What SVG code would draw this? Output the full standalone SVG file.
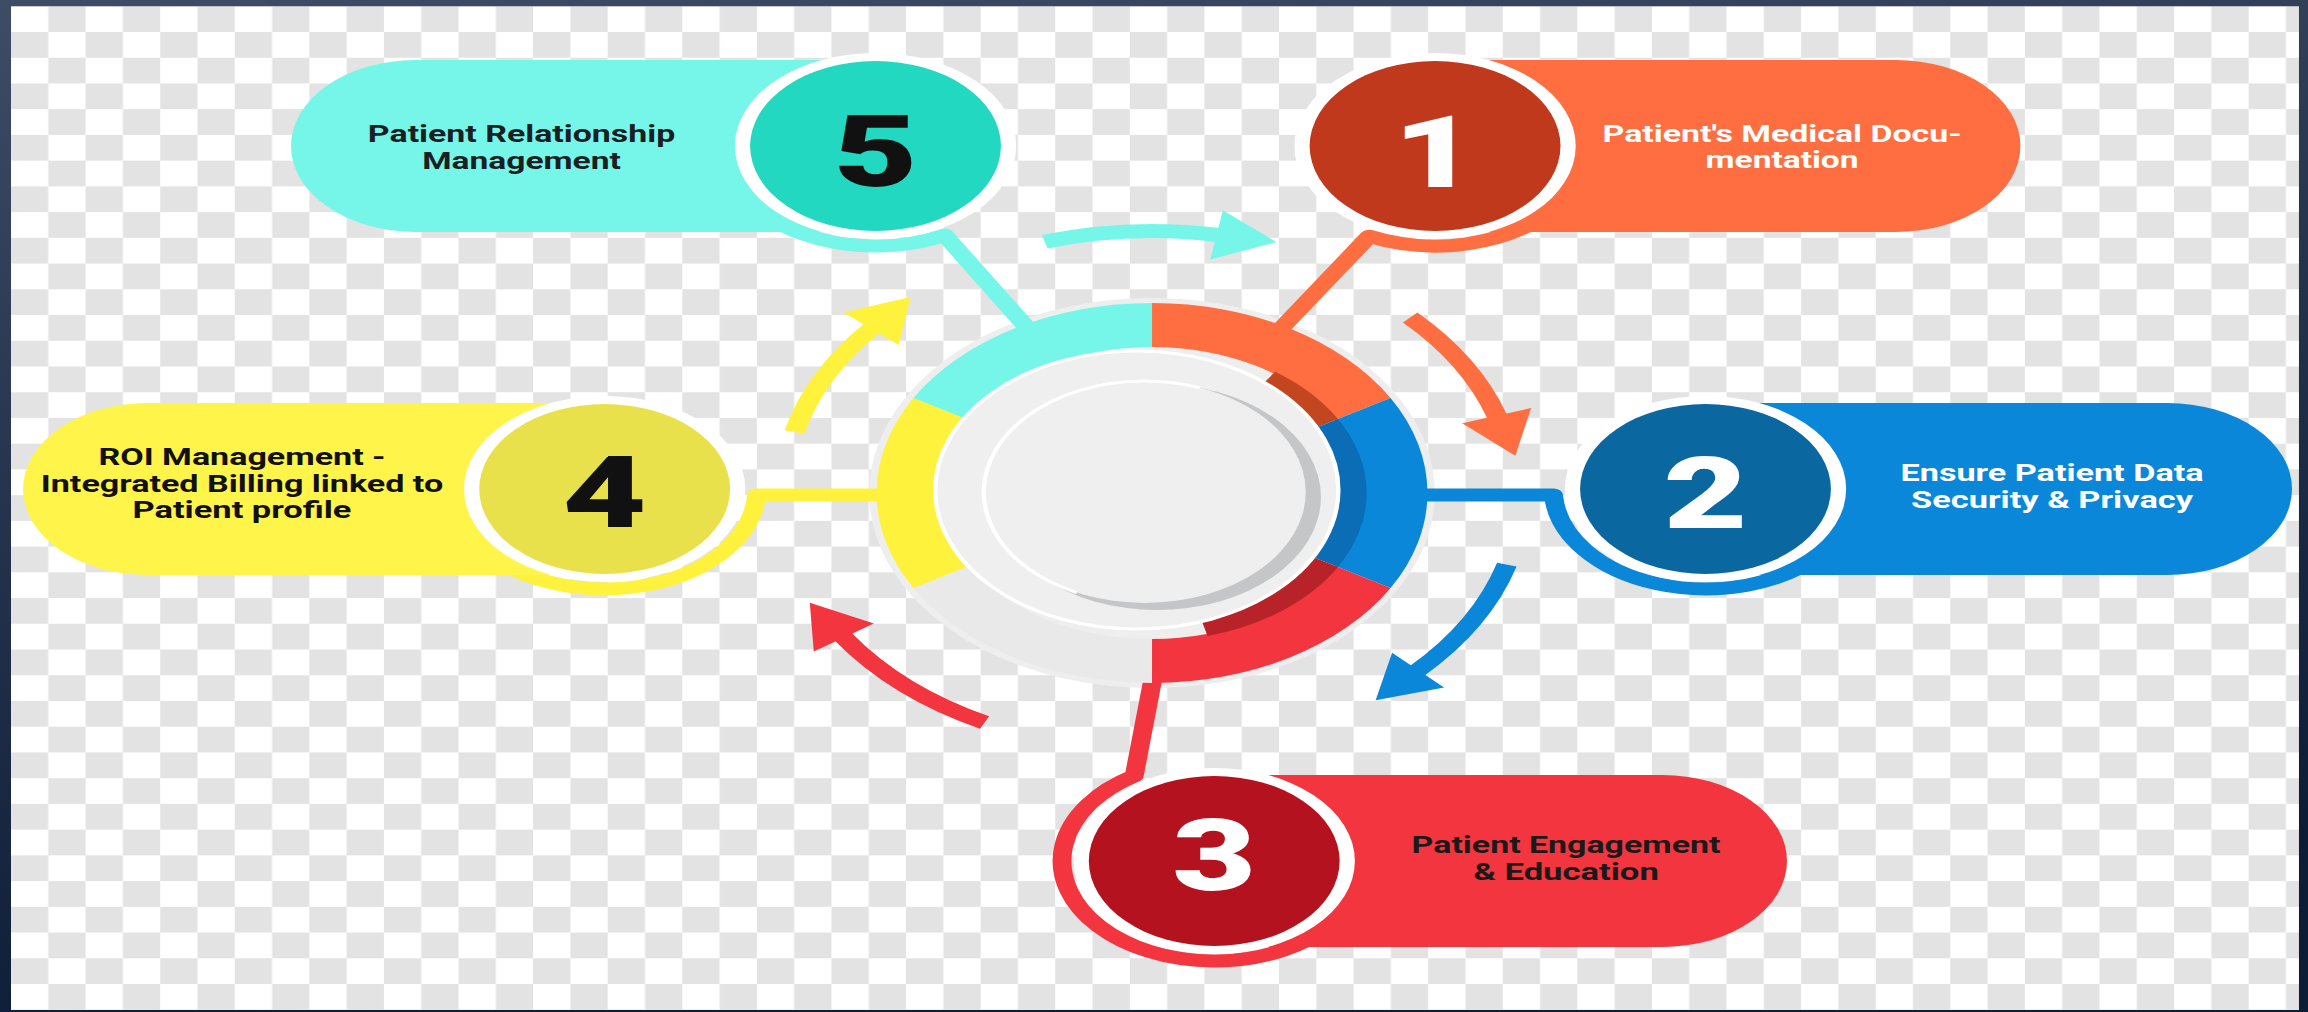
<svg xmlns="http://www.w3.org/2000/svg" width="2308" height="1012" viewBox="0 0 2308 1012">
<defs>
<linearGradient id="frame" x1="0" y1="0" x2="0.25" y2="1">
<stop offset="0" stop-color="#3e4c66"/>
<stop offset="0.45" stop-color="#26344e"/>
<stop offset="1" stop-color="#0e1d37"/>
</linearGradient>
<pattern id="checker" patternUnits="userSpaceOnUse" x="7.586" y="6.27" width="51.44" height="51.46">
<rect width="51.44" height="51.46" fill="#ffffff"/>
<rect x="25.72" y="0" width="25.72" height="25.73" fill="#e3e3e3"/>
<rect x="0" y="25.73" width="25.72" height="25.73" fill="#e3e3e3"/>
</pattern>
<marker id="ah-cyan" markerUnits="userSpaceOnUse" orient="auto" refX="1" refY="0" markerWidth="44" markerHeight="52" overflow="visible"><path d="M0,-25 L42,0 L0,25 Z" fill="#76f6e8"/></marker>
<marker id="ah-orange" markerUnits="userSpaceOnUse" orient="auto" refX="1" refY="0" markerWidth="44" markerHeight="52" overflow="visible"><path d="M0,-25 L42,0 L0,25 Z" fill="#ff6e40"/></marker>
<marker id="ah-blue" markerUnits="userSpaceOnUse" orient="auto" refX="1" refY="0" markerWidth="44" markerHeight="52" overflow="visible"><path d="M0,-25 L42,0 L0,25 Z" fill="#0a87d9"/></marker>
<marker id="ah-red" markerUnits="userSpaceOnUse" orient="auto" refX="1" refY="0" markerWidth="44" markerHeight="52" overflow="visible"><path d="M0,-25 L42,0 L0,25 Z" fill="#f2353f"/></marker>
<marker id="ah-yellow" markerUnits="userSpaceOnUse" orient="auto" refX="1" refY="0" markerWidth="44" markerHeight="52" overflow="visible"><path d="M0,-25 L42,0 L0,25 Z" fill="#fff23c"/></marker>
<style>
.t{font-family:Roboto,"Liberation Sans",Arial,sans-serif;font-weight:700;font-size:23.5px;text-anchor:middle}
.num{font-family:Roboto,"Liberation Sans",Arial,sans-serif;font-weight:900;font-size:100px;text-anchor:middle}
.conn{fill:none;stroke-width:13;stroke-linejoin:round}
.arrow{fill:none;stroke-width:14}
.halo{fill:#fff}
</style>
</defs>
<rect width="2308" height="1012" fill="url(#frame)"/>
<g transform="scale(1.45,1)">
<rect x="7.586" y="6.27" width="1577.9" height="1003.7" fill="url(#checker)"/>

<g id="hub-halo"><circle cx="794.5" cy="493" r="195" fill="#eeeeee"/></g>

<g id="connectors">
<path class="conn" stroke="#76f6e8" d="M714,337 L651.5,235.1 A105 100 0 0 1 523.4,210.3"/>
<path class="conn" stroke="#ff6e40" d="M880.5,333 L944.3,236.2 A105 100 0 0 0 1070.1,210.3"/>
<path class="conn" stroke="#0a87d9" d="M975,495 H1071.4 A105 100 0 0 0 1256.6,553.3"/>
<path class="conn" stroke="#f2353f" d="M796,672 L782.2,775.9 A105 100 0 1 0 917.8,925.3"/>
<path class="conn" stroke="#fff23c" d="M614,495 H521.8 A105 100 0 0 1 336.6,553.3"/>
<path class="arrow" stroke="#76f6e8" marker-end="url(#ah-cyan)" d="M720.5,241.7 A262 262 0 0 1 840,235"/>
<path class="arrow" stroke="#ff6e40" marker-end="url(#ah-orange)" d="M972.5,317.5 A250 250 0 0 1 1032.5,416.6"/>
<path class="arrow" stroke="#0a87d9" marker-end="url(#ah-blue)" d="M1039.2,564.6 A255 255 0 0 1 977.3,670.8"/>
<path class="arrow" stroke="#f2353f" marker-end="url(#ah-red)" d="M679,722.6 A257 257 0 0 1 581.4,636.7"/>
<path class="arrow" stroke="#fff23c" marker-end="url(#ah-yellow)" d="M547.9,432 A254 254 0 0 1 601.4,328.1"/>
</g>

<g id="hub">
<path fill="#ff6e40" d="M794.5,303 A190 190 0 0 1 959,398 L920.9,420 A146 146 0 0 0 794.5,347 Z"/>
<path fill="#0a87d9" d="M959,398 A190 190 0 0 1 959,588 L920.9,566 A146 146 0 0 0 920.9,420 Z"/>
<path fill="#f2353f" d="M959,588 A190 190 0 0 1 794.5,683 L794.5,639 A146 146 0 0 0 920.9,566 Z"/>
<path fill="#e9e9e9" d="M794.5,683 A190 190 0 0 1 630,588 L668.1,566 A146 146 0 0 0 794.5,639 Z"/>
<path fill="#fff23c" d="M630,588 A190 190 0 0 1 630,398 L668.1,420 A146 146 0 0 0 668.1,566 Z"/>
<path fill="#76f6e8" d="M630,398 A190 190 0 0 1 794.5,303 L794.5,347 A146 146 0 0 0 668.1,420 Z"/>
<path fill="#c2461f" d="M879.4,371.8 A148 148 0 0 1 922.7,419 L900.2,432 A122 122 0 0 0 864.5,393.1 Z"/>
<path fill="#0a6db6" d="M922.7,419 A148 148 0 0 1 922.7,567 L900.2,554 A122 122 0 0 0 900.2,432 Z"/>
<path fill="#b8232a" d="M922.7,567 A148 148 0 0 1 832.8,636 L826.1,610.8 A122 122 0 0 0 900.2,554 Z"/>
<circle cx="784" cy="490" r="139" fill="#efefef" stroke="#ffffff" stroke-width="3"/>
<circle cx="798" cy="497" r="113" fill="#c4c6c8"/>
<circle cx="789.5" cy="492" r="111" fill="#efefef"/>
<path d="M827.5,387.7 A111 111 0 0 0 742.6,592.6" fill="none" stroke="#ffffff" stroke-width="3"/>
</g>

<g id="node-5">
<path fill="#76f6e8" d="M286.7,60 H610 V232 H286.7 A86 86 0 0 1 286.7,60 Z"/>
<ellipse class="halo" cx="603.8" cy="146" rx="97" ry="93"/>
<ellipse cx="603.8" cy="146" rx="86.5" ry="85" fill="#22d8c0"/>
<text class="num" x="603.8" y="186" fill="#111111">5</text>
<text class="t" x="359.7" y="141.7" fill="#1b1f24" textLength="212" lengthAdjust="spacingAndGlyphs">Patient Relationship</text>
<text class="t" x="359.7" y="169" fill="#1b1f24" textLength="137" lengthAdjust="spacingAndGlyphs">Management</text>
</g>

<g id="node-1">
<path fill="#ff6e40" d="M980,60 H1307.4 A86 86 0 0 1 1307.4,232 H980 Z"/>
<ellipse class="halo" cx="989.7" cy="146" rx="97" ry="93"/>
<ellipse cx="989.7" cy="146" rx="86.5" ry="85" fill="#c0391c"/>
<text class="num" x="989.7" y="187" fill="#ffffff">1</text>
<text class="t" x="1229" y="141.7" fill="#ffffff" textLength="247.5" lengthAdjust="spacingAndGlyphs">Patient's Medical Docu-</text>
<text class="t" x="1229" y="168.4" fill="#ffffff" textLength="105.5" lengthAdjust="spacingAndGlyphs">mentation</text>
</g>

<g id="node-2">
<path fill="#0a87d9" d="M1168,403 H1494.7 A86 86 0 0 1 1494.7,575 H1168 Z"/>
<ellipse class="halo" cx="1176.2" cy="489" rx="97" ry="93"/>
<ellipse cx="1176.2" cy="489" rx="86.5" ry="85" fill="#0b67a0"/>
<text class="num" x="1176.2" y="528" fill="#ffffff">2</text>
<text class="t" x="1415.2" y="481" fill="#ffffff" textLength="209" lengthAdjust="spacingAndGlyphs">Ensure Patient Data</text>
<text class="t" x="1415.2" y="508" fill="#ffffff" textLength="194.5" lengthAdjust="spacingAndGlyphs">Security &amp; Privacy</text>
</g>

<g id="node-3">
<path fill="#f2353f" d="M830,775 H1146.4 A86 86 0 0 1 1146.4,947 H830 Z"/>
<ellipse class="halo" cx="837.4" cy="861" rx="97" ry="93"/>
<ellipse cx="837.4" cy="861" rx="86.5" ry="85" fill="#b3121e"/>
<text class="num" x="837.4" y="890" fill="#ffffff">3</text>
<text class="t" x="1080" y="853.3" fill="#1a1a1a" textLength="213" lengthAdjust="spacingAndGlyphs">Patient Engagement</text>
<text class="t" x="1080" y="880" fill="#1a1a1a" textLength="128" lengthAdjust="spacingAndGlyphs">&amp; Education</text>
</g>

<g id="node-4">
<path fill="#fff44a" d="M101.9,403 H425 V575 H101.9 A86 86 0 0 1 101.9,403 Z"/>
<ellipse class="halo" cx="417" cy="489" rx="97" ry="93"/>
<ellipse cx="417" cy="489" rx="86.5" ry="85" fill="#e9e14c"/>
<text class="num" x="417" y="527" fill="#111111">4</text>
<text class="t" x="166.9" y="465" fill="#111111" textLength="198" lengthAdjust="spacingAndGlyphs">ROI Management -</text>
<text class="t" x="166.9" y="491.7" fill="#111111" textLength="277.5" lengthAdjust="spacingAndGlyphs">Integrated Billing linked to</text>
<text class="t" x="166.9" y="518.3" fill="#111111" textLength="151" lengthAdjust="spacingAndGlyphs">Patient profile</text>
</g>
</g>
</svg>
